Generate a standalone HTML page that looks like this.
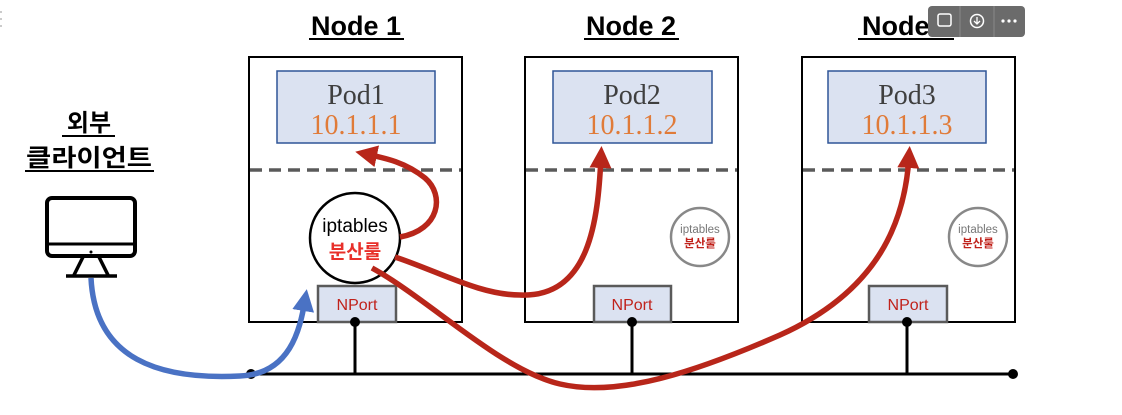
<!DOCTYPE html>
<html><head><meta charset="utf-8"><style>
html,body{margin:0;padding:0;background:#fff;width:1122px;height:415px;overflow:hidden}
svg text{font-family:"Liberation Sans","Noto Sans CJK KR",sans-serif}
.serif{font-family:"Liberation Serif","DejaVu Serif",serif}
</style></head><body>
<svg width="1122" height="415" viewBox="0 0 1122 415" xmlns="http://www.w3.org/2000/svg">
<defs>
<marker id="ar" viewBox="0 0 10 10" refX="5" refY="5" markerWidth="4" markerHeight="4" orient="auto"><path d="M0,0 L10,5 L0,10 z" fill="#b8261a"/></marker>
<marker id="ab" viewBox="0 0 10 10" refX="5" refY="5" markerWidth="4" markerHeight="4" orient="auto"><path d="M0,0 L10,5 L0,10 z" fill="#4a72c4"/></marker>
</defs>
<g font-size="27" font-weight="bold" text-anchor="middle" fill="#000">
<text x="356" y="35">Node 1</text>
<text x="631" y="35">Node 2</text>
<text x="907" y="35">Node 3</text>
</g>
<g stroke="#000" stroke-width="2">
<line x1="309" y1="39" x2="404" y2="39"/><line x1="584" y1="39" x2="679" y2="39"/><line x1="858" y1="39" x2="954" y2="39"/>
</g>
<text x="89" y="131" font-size="24" font-weight="bold" text-anchor="middle">외부</text>
<line x1="62" y1="136" x2="115" y2="136" stroke="#000" stroke-width="2"/>
<text x="89" y="166" font-size="24" font-weight="bold" text-anchor="middle" textLength="126" lengthAdjust="spacingAndGlyphs">클라이언트</text>
<line x1="25" y1="171" x2="154" y2="171" stroke="#000" stroke-width="2"/>
<rect x="47" y="198" width="88" height="58" rx="5" fill="none" stroke="#000" stroke-width="4"/>
<line x1="47" y1="244" x2="135" y2="244" stroke="#000" stroke-width="3"/>
<circle cx="91" cy="252" r="1.5" fill="#000"/>
<path d="M83,257 L74,275 M99,257 L108,275 M66,276 L117,276" stroke="#000" stroke-width="3.5" fill="none"/>
<g stroke="#000" stroke-width="2" fill="#fff">
<rect x="249" y="57" width="213" height="265"/>
<rect x="525" y="57" width="213" height="265"/>
<rect x="802" y="57" width="213" height="265"/>
</g>
<g stroke="#5a5a5a" stroke-width="3.5" stroke-dasharray="12,7">
<line x1="250" y1="170" x2="461" y2="170"/><line x1="526" y1="170" x2="737" y2="170"/><line x1="803" y1="170" x2="1014" y2="170"/>
</g>
<g fill="#dbe2f1" stroke="#2f5597" stroke-width="1.5">
<rect x="277" y="71" width="158" height="72"/>
<rect x="553" y="71" width="159" height="72"/>
<rect x="828" y="71" width="158" height="72"/>
</g>
<g font-size="28" text-anchor="middle">
<text x="356" y="104" fill="#3f3f3f" class="serif">Pod1</text>
<text x="356" y="134" fill="#e07b39" class="serif">10.1.1.1</text>
<text x="632" y="104" fill="#3f3f3f" class="serif">Pod2</text>
<text x="632" y="134" fill="#e07b39" class="serif">10.1.1.2</text>
<text x="907" y="104" fill="#3f3f3f" class="serif">Pod3</text>
<text x="907" y="134" fill="#e07b39" class="serif">10.1.1.3</text>
</g>
<g fill="#dbe2f1" stroke="#5a5a5a" stroke-width="2.5">
<rect x="318" y="286" width="78" height="36"/>
<rect x="594" y="286" width="77" height="36"/>
<rect x="869" y="286" width="78" height="36"/>
</g>
<g font-size="16" fill="#c0221b" text-anchor="middle">
<text x="357" y="310">NPort</text><text x="632" y="310">NPort</text><text x="908" y="310">NPort</text>
</g>
<g stroke="#000" stroke-width="3">
<line x1="251" y1="374" x2="1013" y2="374"/>
<line x1="355" y1="322" x2="355" y2="374"/>
<line x1="632" y1="322" x2="632" y2="374"/>
<line x1="907" y1="322" x2="907" y2="374"/>
</g>
<g fill="#000"><circle cx="251" cy="374" r="5"/><circle cx="1013" cy="374" r="5"/><circle cx="355" cy="322" r="5"/><circle cx="632" cy="322" r="5"/><circle cx="907" cy="322" r="5"/></g>
<circle cx="355" cy="238" r="45" fill="#fff" stroke="#000" stroke-width="2.5"/>
<text x="355" y="232" font-size="19" text-anchor="middle">iptables</text>
<text x="355" y="258" font-size="19" font-weight="bold" fill="#e8302a" text-anchor="middle">분산룰</text>
<circle cx="700" cy="237" r="29" fill="#fff" stroke="#888" stroke-width="2.5"/>
<text x="700" y="233" font-size="11.5" fill="#777" text-anchor="middle">iptables</text>
<text x="700" y="247" font-size="11.5" font-weight="bold" fill="#c0221b" text-anchor="middle">분산룰</text>
<circle cx="978" cy="237" r="29" fill="#fff" stroke="#888" stroke-width="2.5"/>
<text x="978" y="233" font-size="11.5" fill="#777" text-anchor="middle">iptables</text>
<text x="978" y="247" font-size="11.5" font-weight="bold" fill="#c0221b" text-anchor="middle">분산룰</text>
<g fill="none" stroke="#b8261a" stroke-width="5.5">
<path d="M400,237 C440,230 445,195 425,178 C405,162 385,158 366,154" marker-end="url(#ar)"/>
<path d="M395,257 C440,272 480,295 520,295 C590,298 598,220 601,157" marker-end="url(#ar)"/>
<path d="M372,268 C430,300 500,370 560,384 C620,398 700,370 780,335 C880,290 905,220 909,157" marker-end="url(#ar)"/>
</g>
<path d="M91,278 C95,360 160,380 240,376 C290,374 300,330 305,300" fill="none" stroke="#4a72c4" stroke-width="5.5" marker-end="url(#ab)"/>
<rect x="928" y="6" width="97" height="31" rx="4" fill="#6b6b6b"/>
<line x1="960" y1="6" x2="960" y2="37" stroke="#888"/><line x1="994" y1="6" x2="994" y2="37" stroke="#888"/>
<rect x="938" y="14" width="13" height="12" rx="2" fill="none" stroke="#fff" stroke-width="1.5"/>
<circle cx="977" cy="21" r="6.5" fill="none" stroke="#fff" stroke-width="1.5"/>
<path d="M977,17 v7 M974,21 l3,3 l3,-3" stroke="#fff" stroke-width="1.3" fill="none"/>
<g fill="#fff"><circle cx="1003" cy="21" r="1.6"/><circle cx="1009" cy="21" r="1.6"/><circle cx="1015" cy="21" r="1.6"/></g>
<g fill="#bbb"><circle cx="1" cy="12" r="1"/><circle cx="1" cy="19" r="1"/><circle cx="1" cy="26" r="1"/></g>
</svg>
</body></html>
